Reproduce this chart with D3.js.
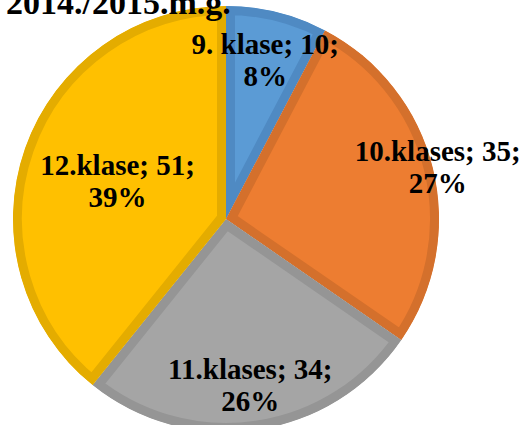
<!DOCTYPE html>
<html>
<head>
<meta charset="utf-8">
<script src="https://cdn.jsdelivr.net/npm/d3@7"></script>
<style>
  body { margin: 0; background: #fff; }
</style>
</head>
<body>
<div class="chart"></div>
<script>
// data
const categories = ['9. klase', '10.klases', '11.klases', '12.klase'];
const values = [10, 35, 34, 51];
const percents = ['8%', '27%', '26%', '39%'];
const title = '2014./2015.m.g.';

const fills = ['#5B9BD5', '#ED7D31', '#A5A5A5', '#FFC000'];
const borders = ['#4F8AC3', '#D4702C', '#959595', '#E4AC00'];
// label distance from centre (Excel "best fit" placement)
const labelRadius = [164, 218, 168, 115];

const width = 529;
const height = 425;
const cx = 226, cy = 219, radius = 213;

const svg = d3.select('.chart')
  .append('svg')
  .attr('width', width)
  .attr('height', height);

const g = svg.append('g')
  .attr('transform', `translate(${cx}, ${cy})`);

const pie = d3.pie().sort(null).value(d => d);
const arcs = pie(values);
const arc = d3.arc().innerRadius(0).outerRadius(radius);

const defs = svg.append('defs');
arcs.forEach((a, i) => {
  defs.append('clipPath')
    .attr('id', `clip${i}`)
    .append('path')
    .attr('d', arc(a));
});

g.selectAll('path.slice')
  .data(arcs)
  .enter()
  .append('path')
  .attr('class', 'slice')
  .attr('d', arc)
  .attr('clip-path', (d, i) => `url(#clip${i})`)
  .style('fill', (d, i) => fills[i])
  .style('stroke', (d, i) => borders[i])
  .style('stroke-width', 18)
  .style('stroke-linejoin', 'miter');

// labels
const labels = g.selectAll('text.lbl')
  .data(arcs)
  .enter()
  .append('text')
  .attr('class', 'lbl')
  .attr('text-anchor', 'middle')
  .style('font-family', '"Liberation Serif", "Times New Roman", serif')
  .style('font-weight', 'bold')
  .style('font-size', '29px')
  .style('fill', '#000')
  .attr('transform', (d, i) => {
    const c = d3.arc().innerRadius(labelRadius[i]).outerRadius(labelRadius[i]).centroid(d);
    return `translate(${c[0]}, ${c[1]})`;
  });

labels.append('tspan')
  .attr('x', 0)
  .attr('y', -6)
  .text((d, i) => `${categories[i]}; ${values[i]};`);

labels.append('tspan')
  .attr('x', 0)
  .attr('y', 26)
  .text((d, i) => percents[i]);

// title line is partly cut by the top edge, as in the original
svg.append('text')
  .attr('x', 6)
  .attr('y', 14)
  .style('font-family', '"Liberation Serif", "Times New Roman", serif')
  .style('font-weight', 'bold')
  .style('font-size', '34px')
  .style('fill', '#000')
  .text(title);
</script>
</body>
</html>
